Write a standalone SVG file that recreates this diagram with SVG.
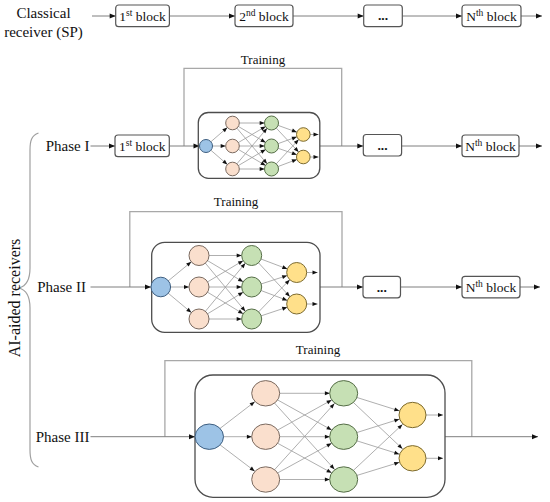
<svg xmlns="http://www.w3.org/2000/svg" width="550" height="502" viewBox="0 0 550 502" font-family="'Liberation Serif', 'Times New Roman', 'DejaVu Serif', serif">
<style>
text{font-family:'Liberation Serif','Times New Roman','DejaVu Serif',serif;fill:#111}
.c{stroke:#7f7f7f;stroke-width:1;fill:none;marker-end:url(#a)}
.t{stroke:#a8a8a8;stroke-width:1.3;fill:none}
.n1,.n2,.n3,.o{stroke:#9a9a9a;stroke-width:0.8}
.n1{marker-end:url(#m1)}.n2{marker-end:url(#m2)}.n3{marker-end:url(#m3)}.o{marker-end:url(#s)}
.box{fill:#fff;stroke:#555;stroke-width:1.2}
.nbox{fill:none;stroke:#4d4d4d;stroke-width:1.3}
.b{fill:#9DC3E6;stroke:#3D5E80;stroke-width:1}
.p{fill:#FADFCD;stroke:#7A6A60;stroke-width:1}
.g{fill:#C6E0B4;stroke:#566E48;stroke-width:1}
.y{fill:#FFE08A;stroke:#7C6A2E;stroke-width:1}
.lbl{font-size:13.5px;text-anchor:middle}
.ph{font-size:15px;text-anchor:end}
.tr{font-size:13px;text-anchor:middle}
</style>
<defs>
<marker id="a" markerUnits="userSpaceOnUse" markerWidth="6" markerHeight="5" refX="6" refY="2.5" orient="auto" overflow="visible"><path d="M0,0L6,2.5L0,5z" fill="#111"/></marker>
<marker id="s" markerUnits="userSpaceOnUse" markerWidth="5" markerHeight="4" refX="5" refY="2" orient="auto" overflow="visible"><path d="M0,0L5,2L0,4z" fill="#111"/></marker>
<marker id="m1" markerUnits="userSpaceOnUse" markerWidth="5" markerHeight="4" refX="11.8" refY="2" orient="auto" overflow="visible"><path d="M0,0L5,2L0,4z" fill="#111"/></marker>
<marker id="m2" markerUnits="userSpaceOnUse" markerWidth="5" markerHeight="4" refX="15" refY="2" orient="auto" overflow="visible"><path d="M0,0L5,2L0,4z" fill="#111"/></marker>
<marker id="m3" markerUnits="userSpaceOnUse" markerWidth="5" markerHeight="4" refX="18.8" refY="2" orient="auto" overflow="visible"><path d="M0,0L5,2L0,4z" fill="#111"/></marker>
</defs>
<rect width="550" height="502" fill="#fff"/>

<g id="connectors">
<line class="c" x1="92" y1="16" x2="115.7" y2="16"/>
<line class="c" x1="169.4" y1="16" x2="235" y2="16"/>
<line class="c" x1="293" y1="16" x2="363.7" y2="16"/>
<line class="c" x1="402.3" y1="16" x2="462" y2="16"/>
<line class="c" x1="521" y1="16" x2="542" y2="16"/>
<path class="t" d="M184,146V68.3H341.7V146"/>
<line class="c" x1="90.5" y1="146" x2="115" y2="146"/>
<line class="c" x1="169.3" y1="146" x2="199.5" y2="146"/>
<line class="c" x1="320" y1="146" x2="363.3" y2="146"/>
<line class="c" x1="401.6" y1="146" x2="462" y2="146"/>
<line class="c" x1="519" y1="146" x2="542" y2="146"/>
<path class="t" d="M129.8,287V211.7H342V287"/>
<line class="c" x1="90.5" y1="287" x2="151" y2="287"/>
<line class="c" x1="320" y1="287" x2="363" y2="287"/>
<line class="c" x1="400.5" y1="287" x2="462" y2="287"/>
<line class="c" x1="520" y1="287" x2="540" y2="287"/>
<path class="t" d="M164.9,436.7V360.7H471.8V436.7"/>
<line class="c" x1="90.5" y1="436.7" x2="195" y2="436.7"/>
<line class="c" x1="445" y1="436.7" x2="538" y2="436.7"/>

<line class="n1" x1="206" y1="146" x2="232.5" y2="123"/>
<line class="n1" x1="206" y1="146" x2="232.5" y2="146"/>
<line class="n1" x1="206" y1="146" x2="232.5" y2="169"/>
<line class="n1" x1="232.5" y1="123" x2="271.5" y2="123"/>
<line class="n1" x1="232.5" y1="123" x2="271.5" y2="146"/>
<line class="n1" x1="232.5" y1="123" x2="271.5" y2="169"/>
<line class="n1" x1="232.5" y1="146" x2="271.5" y2="123"/>
<line class="n1" x1="232.5" y1="146" x2="271.5" y2="146"/>
<line class="n1" x1="232.5" y1="146" x2="271.5" y2="169"/>
<line class="n1" x1="232.5" y1="169" x2="271.5" y2="123"/>
<line class="n1" x1="232.5" y1="169" x2="271.5" y2="146"/>
<line class="n1" x1="232.5" y1="169" x2="271.5" y2="169"/>
<line class="n1" x1="271.5" y1="123" x2="303.3" y2="134.5"/>
<line class="n1" x1="271.5" y1="123" x2="303.3" y2="157"/>
<line class="n1" x1="271.5" y1="146" x2="303.3" y2="134.5"/>
<line class="n1" x1="271.5" y1="146" x2="303.3" y2="157"/>
<line class="n1" x1="271.5" y1="169" x2="303.3" y2="134.5"/>
<line class="n1" x1="271.5" y1="169" x2="303.3" y2="157"/>
<line class="o" x1="303.3" y1="134.5" x2="318.5" y2="134.5"/>
<line class="o" x1="303.3" y1="157" x2="318.5" y2="157"/>

<line class="n2" x1="160.8" y1="287" x2="199" y2="255.5"/>
<line class="n2" x1="160.8" y1="287" x2="199" y2="287"/>
<line class="n2" x1="160.8" y1="287" x2="199" y2="319"/>
<line class="n2" x1="199" y1="255.5" x2="251.7" y2="255.5"/>
<line class="n2" x1="199" y1="255.5" x2="251.7" y2="287"/>
<line class="n2" x1="199" y1="255.5" x2="251.7" y2="319"/>
<line class="n2" x1="199" y1="287" x2="251.7" y2="255.5"/>
<line class="n2" x1="199" y1="287" x2="251.7" y2="287"/>
<line class="n2" x1="199" y1="287" x2="251.7" y2="319"/>
<line class="n2" x1="199" y1="319" x2="251.7" y2="255.5"/>
<line class="n2" x1="199" y1="319" x2="251.7" y2="287"/>
<line class="n2" x1="199" y1="319" x2="251.7" y2="319"/>
<line class="n2" x1="251.7" y1="255.5" x2="296.7" y2="272.5"/>
<line class="n2" x1="251.7" y1="255.5" x2="296.7" y2="304"/>
<line class="n2" x1="251.7" y1="287" x2="296.7" y2="272.5"/>
<line class="n2" x1="251.7" y1="287" x2="296.7" y2="304"/>
<line class="n2" x1="251.7" y1="319" x2="296.7" y2="272.5"/>
<line class="n2" x1="251.7" y1="319" x2="296.7" y2="304"/>
<line class="o" x1="296.7" y1="272.5" x2="317.5" y2="272.5"/>
<line class="o" x1="296.7" y1="304" x2="317.5" y2="304"/>

<line class="n3" x1="209.3" y1="436.7" x2="265.7" y2="393.3"/>
<line class="n3" x1="209.3" y1="436.7" x2="265.7" y2="436.7"/>
<line class="n3" x1="209.3" y1="436.7" x2="265.7" y2="479.5"/>
<line class="n3" x1="265.7" y1="393.3" x2="343.7" y2="393.3"/>
<line class="n3" x1="265.7" y1="393.3" x2="343.7" y2="436.7"/>
<line class="n3" x1="265.7" y1="393.3" x2="343.7" y2="479.5"/>
<line class="n3" x1="265.7" y1="436.7" x2="343.7" y2="393.3"/>
<line class="n3" x1="265.7" y1="436.7" x2="343.7" y2="436.7"/>
<line class="n3" x1="265.7" y1="436.7" x2="343.7" y2="479.5"/>
<line class="n3" x1="265.7" y1="479.5" x2="343.7" y2="393.3"/>
<line class="n3" x1="265.7" y1="479.5" x2="343.7" y2="436.7"/>
<line class="n3" x1="265.7" y1="479.5" x2="343.7" y2="479.5"/>
<line class="n3" x1="343.7" y1="393.3" x2="412.5" y2="415"/>
<line class="n3" x1="343.7" y1="393.3" x2="412.5" y2="458.3"/>
<line class="n3" x1="343.7" y1="436.7" x2="412.5" y2="415"/>
<line class="n3" x1="343.7" y1="436.7" x2="412.5" y2="458.3"/>
<line class="n3" x1="343.7" y1="479.5" x2="412.5" y2="415"/>
<line class="n3" x1="343.7" y1="479.5" x2="412.5" y2="458.3"/>
<line class="o" x1="412.5" y1="415" x2="443" y2="415"/>
<line class="o" x1="412.5" y1="458.3" x2="443" y2="458.3"/>
</g>

<g id="label-classical"><text x="43.5" y="18" font-size="15" text-anchor="middle">Classical</text><text x="43.5" y="36.5" font-size="15" text-anchor="middle">receiver (SP)</text></g>
<g id="top-b1"><rect class="box" x="115.7" y="5" width="53.7" height="21.7" rx="3"/><text class="lbl" x="142.5" y="20.6">1<tspan font-size="9.5" dy="-4.5">st</tspan><tspan dy="4.5"> block</tspan></text></g>
<g id="top-b2"><rect class="box" x="235" y="5" width="58" height="21.7" rx="3"/><text class="lbl" x="264" y="20.6">2<tspan font-size="9.5" dy="-4.5">nd</tspan><tspan dy="4.5"> block</tspan></text></g>
<g id="top-b3"><rect class="box" x="363.7" y="5" width="38.6" height="21.7" rx="3"/><text class="lbl" x="383" y="20" font-weight="bold">...</text></g>
<g id="top-b4"><rect class="box" x="462" y="5" width="59" height="21.7" rx="3"/><text class="lbl" x="491.5" y="20.6">N<tspan font-size="9.5" dy="-4.5">th</tspan><tspan dy="4.5"> block</tspan></text></g>

<g id="brace"><path d="M38.5,133C31.5,135.5 30,141 30,150L30,268C30,280 26.5,286 19,288C26.5,290 30,296 30,308L30,450C30,459 31.5,464.5 38.5,467" fill="none" stroke="#a0a0a0" stroke-width="1.2"/></g>
<g id="label-ai"><text transform="translate(19.5,298) rotate(-90)" font-size="16" text-anchor="middle">AI-aided receivers</text></g>

<g id="phase1-label"><text class="ph" x="89.4" y="151">Phase I</text></g>
<g id="p1-b1"><rect class="box" x="115" y="135" width="54.3" height="21.7" rx="3"/><text class="lbl" x="142.2" y="150.6">1<tspan font-size="9.5" dy="-4.5">st</tspan><tspan dy="4.5"> block</tspan></text></g>
<g id="p1-train"><text class="tr" x="263" y="64">Training</text></g>
<g id="p1-nn"><rect class="nbox" x="198.3" y="112.5" width="121.5" height="65.8" rx="10"/>
<circle class="b" cx="206" cy="146" r="6.5"/>
<circle class="p" cx="232.5" cy="123" r="6.8"/><circle class="p" cx="232.5" cy="146" r="6.8"/><circle class="p" cx="232.5" cy="169" r="6.8"/>
<circle class="g" cx="271.5" cy="123" r="7"/><circle class="g" cx="271.5" cy="146" r="7"/><circle class="g" cx="271.5" cy="169" r="7"/>
<circle class="y" cx="303.3" cy="134.5" r="6.8"/><circle class="y" cx="303.3" cy="157" r="6.8"/></g>
<g id="p1-b3"><rect class="box" x="363.3" y="134.5" width="38.3" height="21.5" rx="3"/><text class="lbl" x="382.5" y="150" font-weight="bold">...</text></g>
<g id="p1-b4"><rect class="box" x="462" y="135" width="57" height="21.7" rx="3"/><text class="lbl" x="490.5" y="150.6">N<tspan font-size="9.5" dy="-4.5">th</tspan><tspan dy="4.5"> block</tspan></text></g>

<g id="phase2-label"><text class="ph" x="86" y="292">Phase II</text></g>
<g id="p2-train"><text class="tr" x="236" y="206">Training</text></g>
<g id="p2-nn"><rect class="nbox" x="151.7" y="242.3" width="168.3" height="90" rx="13"/>
<circle class="b" cx="160.8" cy="287" r="9.8"/>
<circle class="p" cx="199" cy="255.5" r="10"/><circle class="p" cx="199" cy="287" r="10"/><circle class="p" cx="199" cy="319" r="10"/>
<circle class="g" cx="251.7" cy="255.5" r="10"/><circle class="g" cx="251.7" cy="287" r="10"/><circle class="g" cx="251.7" cy="319" r="10"/>
<circle class="y" cx="296.7" cy="272.5" r="10"/><circle class="y" cx="296.7" cy="304" r="10"/></g>
<g id="p2-b3"><rect class="box" x="363" y="276.3" width="37.5" height="21.5" rx="3"/><text class="lbl" x="381.8" y="291.8" font-weight="bold">...</text></g>
<g id="p2-b4"><rect class="box" x="462" y="276.3" width="58" height="21.5" rx="3"/><text class="lbl" x="491" y="291.8">N<tspan font-size="9.5" dy="-4.5">th</tspan><tspan dy="4.5"> block</tspan></text></g>

<g id="phase3-label"><text class="ph" x="89.4" y="441.7">Phase III</text></g>
<g id="p3-train"><text class="tr" x="318" y="354">Training</text></g>
<g id="p3-nn"><rect class="nbox" x="195" y="375" width="250" height="122.3" rx="18"/>
<ellipse class="b" cx="209.3" cy="436.7" rx="14.2" ry="12.7"/>
<ellipse class="p" cx="265.7" cy="393.3" rx="14" ry="12.7"/><ellipse class="p" cx="265.7" cy="436.7" rx="14" ry="12.7"/><ellipse class="p" cx="265.7" cy="479.5" rx="14" ry="12.7"/>
<ellipse class="g" cx="343.7" cy="393.3" rx="14" ry="12.7"/><ellipse class="g" cx="343.7" cy="436.7" rx="14" ry="12.7"/><ellipse class="g" cx="343.7" cy="479.5" rx="14" ry="12.7"/>
<ellipse class="y" cx="412.5" cy="415" rx="13.5" ry="12.7"/><ellipse class="y" cx="412.5" cy="458.3" rx="13.5" ry="12.7"/></g>
</svg>
